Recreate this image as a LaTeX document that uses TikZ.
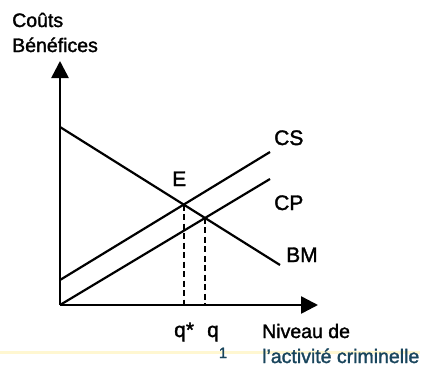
\documentclass[tikz,border=0pt]{standalone}
\usepackage{fontspec}
\setmainfont{Liberation Sans}[FakeBold=1.6]
\usepackage{tikz}
\usetikzlibrary{arrows.meta,intersections}
\definecolor{scanblue}{rgb}{0.10,0.27,0.36}
\definecolor{scanyellow}{rgb}{1.0,0.97,0.82}

\tikzset{
  axis/.style={line width=2.6pt, -{Triangle[length=17pt,width=17pt]}},
  curve/.style={line width=2.2pt},
  guide/.style={line width=1.8pt, dash pattern=on 6pt off 3.5pt},
  lbl/.style={anchor=base west, inner sep=0pt, font=\fontsize{19.5}{25}\selectfont},
  biglbl/.style={lbl, font=\fontsize{21}{25}\selectfont}
}

\begin{document}
\begin{tikzpicture}[x=1pt,y=-1pt]
\useasboundingbox (0,0) rectangle (425,367);
\draw[scanyellow, line width=3pt] (0,352) -- (420,352);

% axes
\coordinate (O) at (60,305);
\coordinate (ytop) at (60,61);
\coordinate (xend) at (318,305);
\draw[axis] (O) -- (ytop);
\draw[axis] (O) -- (xend);

% curves
\coordinate (bm0) at (60,127);
\coordinate (bm1) at (280,265);
\coordinate (cs0) at (60,280);
\coordinate (cs1) at (270,152);
\coordinate (cp1) at (270,179);
\draw[curve, name path=BM] (bm0) -- (bm1);
\draw[curve, name path=CS] (cs0) -- (cs1);
\draw[curve, name path=CP] (O) -- (cp1);

% equilibrium points
\path[name intersections={of=BM and CS, by=e}];
\path[name intersections={of=BM and CP, by=e1}];
\draw[guide] (e) -- (e |- O);
\draw[guide] (e1) -- (e1 |- O);

% labels
\node[biglbl] (cs) at (274,145) {CS};
\node[biglbl] (cp) at (274,210) {CP};
\node[biglbl] (bm) at (286,262) {BM};
\node[biglbl] (E) at (172,186) {E};
\node[biglbl] (qs) at (174,337) {q*};
\node[biglbl] (q1) at (207,337) {q\raisebox{-21pt}{\textcolor{scanblue}{\fontsize{15}{15}\selectfont 1}}};
\node[lbl] (ytitle1) at (12,27) {Coûts};
\node[lbl] (ytitle2) at (12,52) {Bénéfices};
\node[lbl] (xtitle1) at (262,338) {Niveau de};
\node[lbl, text=scanblue] (xtitle2) at (262,363) {l'activité criminelle};
\end{tikzpicture}
\end{document}
